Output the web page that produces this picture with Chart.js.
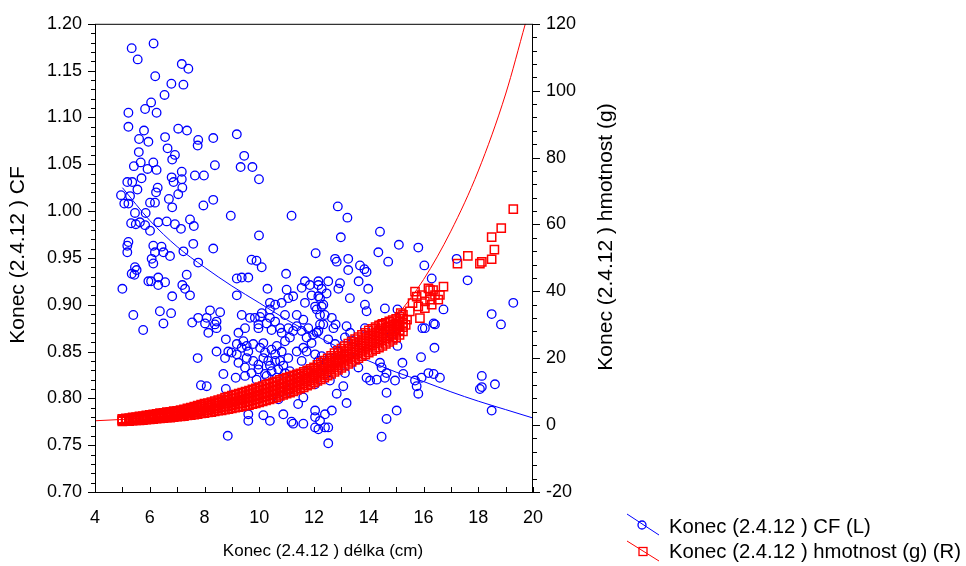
<!DOCTYPE html>
<html>
<head>
<meta charset="utf-8">
<script src="https://cdn.jsdelivr.net/npm/chart.js@4.4.1/dist/chart.umd.min.js"></script>
<style>
html,body{margin:0;padding:0;background:#fff;}
canvas{display:block;}
</style>
</head>
<body>
<canvas id="c" width="966" height="566"></canvas>
<script>
// ---- tick labels ----
const xTicks = [4, 6, 8, 10, 12, 14, 16, 18, 20];
const cfTicks = [0.70, 0.75, 0.80, 0.85, 0.90, 0.95, 1.00, 1.05, 1.10, 1.15, 1.20];
const hmTicks = [-20, 0, 20, 40, 60, 80, 100, 120];

// ---- titles ----
const xTitle = 'Konec (2.4.12 ) délka (cm)';
const cfTitle = 'Konec (2.4.12 ) CF';
const hmTitle = 'Konec (2.4.12 ) hmotnost (g)';
const cfLegend = 'Konec (2.4.12 ) CF (L)';
const hmLegend = 'Konec (2.4.12 ) hmotnost (g) (R)';

// ---- CF observations [length, CF] ----
const cfPoints = [
[5.34,1.174],[5.56,1.162],[6.14,1.179],[7.17,1.157],[7.41,1.152],[6.20,1.144],[6.79,1.136],[7.23,1.135],
[6.54,1.124],[6.05,1.116],[5.83,1.109],[6.25,1.105],[5.22,1.105],[5.22,1.090],[5.79,1.086],[5.61,1.077],
[5.95,1.074],[6.56,1.079],[7.04,1.088],[7.36,1.086],[7.77,1.076],[7.75,1.070],[8.32,1.078],[6.65,1.067],
[6.92,1.060],[6.82,1.055],[5.60,1.063],[6.13,1.052],[5.42,1.048],[5.67,1.052],[5.92,1.045],[6.25,1.044],
[7.17,1.042],[7.65,1.038],[7.98,1.038],[5.70,1.035],[6.80,1.036],[7.17,1.034],[6.87,1.031],[5.18,1.031],
[5.36,1.031],[5.55,1.023],[4.95,1.017],[5.28,1.016],[5.07,1.008],[5.22,1.008],[6.29,1.025],[6.23,1.020],
[6.01,1.009],[6.19,1.009],[6.70,1.013],[6.82,1.004],[7.04,1.018],[7.19,1.025],[7.96,1.006],[8.32,1.012],
[5.46,0.998],[5.85,0.998],[5.32,0.987],[5.49,0.986],[5.64,0.988],[5.83,0.985],[6.31,0.988],[6.62,0.989],
[6.92,0.986],[7.47,0.991],[7.61,0.984],[7.14,0.981],[6.01,0.979],[5.22,0.967],[7.59,0.965],[8.32,0.960],
[6.19,0.956],[9.18,1.082],[9.45,1.059],[9.32,1.047],[9.75,1.047],[9.99,1.034],[8.38,1.049],[8.96,0.995],
[11.18,0.995],[9.99,0.974],[9.72,0.948],[9.90,0.947],
[5.18,0.963],[5.18,0.956],[6.13,0.963],[6.43,0.962],[6.50,0.956],[6.74,0.952],[7.23,0.957],[6.07,0.949],
[6.13,0.944],[7.77,0.945],[5.46,0.940],[5.52,0.937],[5.34,0.933],[5.44,0.932],[5.95,0.925],[6.05,0.925],
[6.31,0.929],[6.56,0.924],[6.31,0.921],[7.35,0.932],[7.19,0.921],[7.29,0.917],[7.47,0.910],[6.82,0.909],
[5.00,0.917],[5.40,0.889],[5.76,0.873],[6.37,0.893],[6.78,0.891],[6.50,0.880],[7.55,0.881],[7.77,0.886],
[8.02,0.880],[8.20,0.894],[8.08,0.886],[8.14,0.870],[7.75,0.843],[7.87,0.814],
[9.18,0.928],[9.36,0.929],[9.60,0.929],[10.09,0.940],[10.98,0.933],[10.30,0.917],[9.18,0.910],
[10.39,0.902],[10.58,0.900],[10.82,0.902],[11.00,0.916],[11.24,0.909],[9.36,0.889],[9.66,0.886],[10.03,0.887],
[10.39,0.886],[10.27,0.880],[9.97,0.875],[10.45,0.873],[8.44,0.882],[8.57,0.892],[8.38,0.879],[8.78,0.863],
[8.44,0.850],[8.69,0.826],[8.78,0.810],[8.87,0.850],[8.99,0.849],[9.18,0.847],[9.18,0.858],[9.42,0.861],
[9.54,0.856],[9.78,0.858],[10.03,0.854],[10.15,0.859],[10.45,0.852],[10.64,0.856],[10.82,0.850],[11.06,0.843],
[11.37,0.850],[11.61,0.854],[9.54,0.843],[9.78,0.840],[9.97,0.836],[10.15,0.843],[10.39,0.835],[10.58,0.840],
[10.88,0.835],[11.12,0.829],[9.14,0.822],[9.48,0.824],[9.90,0.820],[10.27,0.824],[10.64,0.822],[11.12,0.820],
[8.83,0.801],[9.60,0.783],[9.60,0.776],[10.15,0.782],[10.39,0.776],[10.70,0.799],[10.88,0.783],[11.18,0.775],
[11.61,0.773],[8.85,0.760],[11.06,0.808],[11.42,0.794],[11.61,0.801],
[12.06,0.955],[11.67,0.925],[11.85,0.921],[12.16,0.921],[11.55,0.918],[11.06,0.907],[11.91,0.910],[12.22,0.907],
[11.67,0.902],[12.04,0.898],[12.34,0.900],[10.39,0.895],[10.94,0.889],[10.09,0.891],[10.58,0.882],[10.76,0.875],
[11.06,0.875],[11.24,0.872],[10.82,0.870],[10.94,0.861],[11.12,0.865],[11.37,0.877],[11.55,0.872],[11.79,0.875],
[11.97,0.868],[11.73,0.865],[11.91,0.859],[12.22,0.889],[12.34,0.879],[12.16,0.872],[11.37,0.889],[11.61,0.884],
[8.44,0.875],[9.84,0.886],[9.97,0.879],[9.48,0.875],[9.24,0.870],[8.75,0.843],[9.36,0.854],[9.60,0.850],
[10.21,0.849],[10.33,0.840],[10.58,0.847],[10.76,0.840],[9.24,0.838],[9.48,0.833],[9.72,0.827],[9.97,0.831],
[10.21,0.826],[10.45,0.829],[10.70,0.831],[10.94,0.827],[11.55,0.840],[11.73,0.850],[12.04,0.847],[11.79,0.829],
[11.42,0.822],[11.24,0.773],[12.04,0.769],[8.08,0.813],
[12.87,1.005],[13.22,0.993],[12.98,0.972],[14.41,0.978],[14.35,0.956],[15.10,0.964],[15.81,0.961],[16.03,0.942],
[14.71,0.946],[12.77,0.949],[12.83,0.946],[13.25,0.949],[13.25,0.937],[13.68,0.942],[13.84,0.938],[13.92,0.935],
[13.63,0.925],[13.98,0.917],[13.31,0.907],[12.95,0.923],[12.52,0.925],[12.89,0.917],[12.16,0.925],[12.28,0.917],
[12.46,0.912],[12.16,0.909],[12.28,0.898],[12.10,0.895],[12.39,0.889],[12.65,0.886],[12.22,0.879],[12.71,0.875],
[12.10,0.870],[12.52,0.863],[12.79,0.879],[13.19,0.877],[13.32,0.870],[13.86,0.900],[13.92,0.893],[14.59,0.896],
[15.05,0.895],[13.86,0.875],[13.13,0.865],[13.44,0.861],[12.77,0.858],[12.89,0.850],[12.58,0.843],[12.28,0.845],
[12.16,0.840],[15.96,0.875],[16.37,0.880],[16.40,0.854],[15.91,0.844],[15.23,0.838],[15.05,0.856],[14.84,0.868],
[14.41,0.838],[14.47,0.833],[14.65,0.827],[14.96,0.819],[15.26,0.826],[15.69,0.819],[15.93,0.822],[16.18,0.827],
[16.37,0.826],[13.62,0.833],[13.92,0.822],[14.05,0.819],[14.29,0.820],[14.59,0.822],[14.65,0.806],[15.75,0.813],
[15.81,0.805],[13.07,0.813],[12.83,0.805],[13.19,0.795],[12.65,0.787],[12.40,0.783],[12.22,0.776],[12.52,0.769],
[12.40,0.769],[12.16,0.767],[12.52,0.752],[14.47,0.759],[14.65,0.778],[15.02,0.787],[12.04,0.787],[12.04,0.815],
[12.34,0.833],[12.58,0.819],[13.13,0.827],[12.04,0.780],
[17.21,0.949],[17.61,0.926],[19.28,0.902],[18.49,0.890],[18.83,0.879],[16.30,0.928],[16.73,0.895],[16.42,0.879],
[16.60,0.822],[16.05,0.875],[18.13,0.824],[18.13,0.812],[18.06,0.810],[18.61,0.815],[18.49,0.787]
];

// ---- weight observations: dense band, read as [length, g, g, g, g, g] ----
const hmBand = [
[5.000,1.1,1.3,1.5,1.7,1.9],[5.125,1.2,1.4,1.6,1.8,2.0],[5.250,1.2,1.5,1.7,1.9,2.1],[5.375,1.3,1.6,1.8,2.1,2.3],
[5.500,1.4,1.7,1.9,2.2,2.4],[5.625,1.4,1.7,2.0,2.3,2.6],[5.750,1.5,1.8,2.1,2.4,2.7],[5.875,1.6,1.9,2.2,2.6,2.9],
[6.000,1.7,2.1,2.4,2.8,3.1],[6.125,1.8,2.2,2.5,2.9,3.2],[6.250,1.9,2.3,2.6,3.0,3.4],[6.375,2.0,2.4,2.8,3.2,3.6],
[6.500,2.1,2.5,2.9,3.3,3.7],[6.625,2.2,2.6,3.0,3.5,3.9],[6.750,2.2,2.7,3.1,3.6,4.0],[6.875,2.4,2.9,3.3,3.8,4.2],
[7.000,2.5,3.0,3.4,3.9,4.3],[7.125,2.6,3.1,3.6,4.1,4.5],[7.250,2.7,3.2,3.7,4.2,4.7],[7.375,2.9,3.4,3.9,4.5,5.0],
[7.500,3.0,3.6,4.1,4.7,5.2],[7.625,3.1,3.7,4.3,4.9,5.5],[7.750,3.3,3.9,4.5,5.2,5.8],[7.875,3.5,4.2,4.8,5.5,6.1],
[8.000,3.6,4.3,5.0,5.7,6.4],[8.125,3.8,4.5,5.2,5.9,6.6],[8.250,3.9,4.7,5.4,6.2,6.9],[8.375,4.1,4.9,5.7,6.5,7.2],
[8.500,4.3,5.1,5.9,6.7,7.5],[8.625,4.4,5.3,6.1,7.0,7.8],[8.750,4.6,5.5,6.4,7.3,8.2],[8.875,4.8,5.7,6.6,7.6,8.5],
[9.000,5.0,6.0,6.9,7.9,8.8],[9.125,5.2,6.2,7.1,8.1,9.1],[9.250,5.4,6.4,7.4,8.4,9.4],[9.375,5.6,6.6,7.6,8.7,9.7],
[9.500,5.8,6.9,7.9,9.0,10.0],[9.625,6.0,7.1,8.2,9.3,10.3],[9.750,6.3,7.4,8.5,9.6,10.7],[9.875,6.5,7.7,8.8,9.9,11.0],
[10.000,6.8,8.0,9.1,10.3,11.4],[10.125,7.1,8.3,9.4,10.6,11.7],[10.250,7.4,8.6,9.7,10.9,12.1],[10.375,7.7,8.9,10.0,11.2,12.4],
[10.500,8.0,9.2,10.4,11.6,12.8],[10.625,8.3,9.5,10.7,11.9,13.1],[10.750,8.7,9.9,11.1,12.3,13.5],[10.875,9.0,10.2,11.4,12.6,13.8],
[11.000,9.4,10.6,11.8,13.0,14.2],[11.125,9.7,10.9,12.1,13.3,14.5],[11.250,10.1,11.3,12.5,13.7,14.9],[11.375,10.5,11.7,12.8,14.0,15.2],
[11.500,10.9,12.1,13.2,14.4,15.5],[11.625,11.3,12.5,13.6,14.8,15.9],[11.750,11.8,13.0,14.1,15.3,16.4],[11.875,12.2,13.4,14.5,15.7,16.8],
[12.000,12.7,13.9,15.0,16.2,17.3],[12.125,13.2,14.4,15.6,16.8,18.0],[12.250,13.7,15.0,16.2,17.5,18.7],[12.375,14.2,15.5,16.8,18.1,19.3],
[12.500,14.8,16.1,17.4,18.7,20.0],[12.625,15.3,16.7,18.0,19.4,20.7],[12.750,15.9,17.3,18.7,20.1,21.5],[12.875,16.5,17.9,19.3,20.8,22.2],
[13.000,17.1,18.6,20.0,21.5,22.9],[13.125,17.7,19.2,20.6,22.1,23.6],[13.250,18.3,19.8,21.3,22.9,24.4],[13.375,18.9,20.4,21.9,23.5,25.0],
[13.500,19.5,21.1,22.6,24.2,25.7],[13.625,20.0,21.6,23.2,24.8,26.3],[13.750,20.6,22.2,23.8,25.4,27.0],[13.875,21.1,22.8,24.4,26.0,27.6],
[14.000,21.7,23.4,25.0,26.7,28.3],[14.125,22.2,23.9,25.5,27.2,28.8],[14.250,22.7,24.4,26.0,27.7,29.3],[14.375,23.2,24.9,26.5,28.2,29.8],
[14.500,23.7,25.4,27.0,28.7,30.3],[14.625,24.3,25.9,27.5,29.1,30.6],[14.750,24.9,26.5,28.0,29.5,31.0],[14.875,25.5,27.0,28.5,30.0,31.4],
[15.000,26.2,27.6,29.0,30.4,31.8],[15.125,27.0,28.4,29.8,31.1,32.4],[15.250,28.0,29.3,30.5,31.8,33.0]
];
// ---- weight observations: individual squares [length, g] ----
const hmPoints = [
[15.17,33.5],[15.35,30.0],[15.40,31.5],[15.50,34.0],[15.60,36.5],[15.75,38.4],[15.81,35.5],[15.87,32.0],
[15.93,38.9],[16.05,35.0],[16.05,37.0],[16.24,40.4],[16.24,37.5],[16.30,36.0],[16.35,40.4],[16.42,38.9],
[16.54,37.5],[16.60,38.9],[16.73,41.4],[15.69,39.9],[16.18,40.9],[14.47,30.0],[14.71,29.5],[14.90,26.1],
[15.10,30.0],[17.24,48.3],[17.62,50.6],[18.06,48.3],[18.13,48.8],[18.49,49.6],[18.59,52.5],[18.49,56.2],
[18.84,58.9],[19.28,64.6]
];

// ---- fitted curves ----
const cfFit = [[5,1.025],[6,0.990],[7,0.962],[8,0.940],[9,0.920],[10,0.902],[11,0.884],[12,0.868],
  [13,0.853],[14,0.840],[15,0.828],[16,0.818],[17,0.807],[18,0.797],[19,0.788],[20,0.779]];
const hmFit = [[4,1.3],[5,1.7],[6,2.3],[7,3.1],[8,4.2],[9,5.6],[10,7.5],[11,10.1],[12,13.5],[13,18.0],
  [14,24.2],[15,32.5],[16,43.5],[17,58.0],[18,76.0],[19,99.0],[19.72,120]];

const BLUE = '#0000ff';
const RED = '#ff0000';
const FONT = '"Liberation Sans", Arial, Helvetica, sans-serif';

const xy = arr => arr.map(p => ({x: p[0], y: p[1]}));
const bandXY = [];
hmBand.forEach(r => { for (let i = 1; i < r.length; i++) bandXY.push({x: r[0], y: r[i]}); });
const hmXY = bandXY.concat(xy(hmPoints));

const decorations = {
  id: 'decorations',
  afterDatasetsDraw(chart) {
    const {ctx, chartArea: a, scales} = chart;
    ctx.save();
    ctx.strokeStyle = '#000';
    ctx.lineWidth = 1;
    ctx.strokeRect(a.left + 0.5, a.top + 0.5, a.right - a.left - 1, a.bottom - a.top);
    ctx.beginPath();
    for (let i = 0; i <= 50; i++) {
      const y = Math.round(scales.yL.getPixelForValue(0.70 + i * 0.01)) + 0.5;
      const len = (i % 5 === 0) ? 7 : 4;
      ctx.moveTo(a.left, y); ctx.lineTo(a.left - len, y);
    }
    for (let i = 0; i <= 35; i++) {
      const y = Math.round(scales.yR.getPixelForValue(-20 + i * 4)) + 0.5;
      const len = (i % 5 === 0) ? 7 : 4;
      ctx.moveTo(a.right, y); ctx.lineTo(a.right + len, y);
    }
    for (let v = 4; v <= 20; v++) {
      const x = Math.round(scales.x.getPixelForValue(v)) + 0.5;
      ctx.moveTo(x, a.bottom); ctx.lineTo(x, a.bottom - 5);
    }
    ctx.stroke();
    ctx.restore();
  },
  afterDraw(chart) {
    const ctx = chart.ctx;
    const a = chart.chartArea;
    ctx.save();
    ctx.fillStyle = '#000';
    ctx.textAlign = 'center';
    ctx.textBaseline = 'middle';
    // axis titles
    ctx.font = '17px ' + FONT;
    ctx.fillText(xTitle, (a.left + a.right) / 2 + 9, 551);
    ctx.font = '21px ' + FONT;
    ctx.save(); ctx.translate(18, 255); ctx.rotate(-Math.PI / 2); ctx.fillText(cfTitle, 0, 0); ctx.restore();
    ctx.save(); ctx.translate(606, 237); ctx.rotate(-Math.PI / 2); ctx.fillText(hmTitle, 0, 0); ctx.restore();
    // legend
    ctx.lineWidth = 1;
    ctx.strokeStyle = BLUE;
    ctx.beginPath(); ctx.moveTo(627, 514); ctx.lineTo(659, 535); ctx.stroke();
    ctx.lineWidth = 1.3;
    ctx.beginPath(); ctx.arc(642, 525, 4, 0, Math.PI * 2); ctx.stroke();
    ctx.lineWidth = 1;
    ctx.strokeStyle = RED;
    ctx.beginPath(); ctx.moveTo(627, 541); ctx.lineTo(659, 561); ctx.stroke();
    ctx.lineWidth = 1.3;
    ctx.strokeRect(639, 547.5, 8, 8);
    ctx.font = '20.3px ' + FONT;
    ctx.textAlign = 'left';
    ctx.fillText(cfLegend, 669, 527);
    ctx.fillText(hmLegend, 669, 552);
    ctx.restore();
  }
};

Chart.defaults.font.family = FONT;
Chart.defaults.font.size = 18;
Chart.defaults.color = '#000';

new Chart(document.getElementById('c'), {
  type: 'scatter',
  data: {
    datasets: [
      { type: 'line', data: xy(hmFit), yAxisID: 'yR', borderColor: RED, borderWidth: 1,
        pointRadius: 0, fill: false, cubicInterpolationMode: 'monotone', order: 1 },
      { type: 'scatter', data: hmXY, yAxisID: 'yR', pointStyle: 'rect', pointRadius: 5.8,
        borderColor: RED, backgroundColor: 'rgba(0,0,0,0)', borderWidth: 1.5, order: 2 },
      { type: 'line', data: xy(cfFit), yAxisID: 'yL', borderColor: BLUE, borderWidth: 1,
        pointRadius: 0, fill: false, cubicInterpolationMode: 'monotone', order: 3 },
      { type: 'scatter', data: xy(cfPoints), yAxisID: 'yL', pointStyle: 'circle', pointRadius: 4.3,
        borderColor: BLUE, backgroundColor: 'rgba(0,0,0,0)', borderWidth: 1.3, order: 4 }
    ]
  },
  options: {
    responsive: false,
    animation: false,
    devicePixelRatio: 1,
    layout: { padding: { left: 0, top: 20, right: 343, bottom: 0 } },
    plugins: { legend: { display: false }, tooltip: { enabled: false } },
    scales: {
      x: {
        type: 'linear', position: 'bottom', min: 4, max: 20,
        grid: { display: false, drawTicks: false }, border: { display: false },
        afterBuildTicks: s => { s.ticks = xTicks.map(v => ({value: v})); },
        ticks: { padding: 15, callback: v => String(v), maxRotation: 0, autoSkip: false },
        title: { display: false, text: xTitle },
        afterFit: s => { s.height = 74; }
      },
      yL: {
        type: 'linear', position: 'left', min: 0.70, max: 1.20,
        grid: { display: false, drawTicks: false }, border: { display: false },
        afterBuildTicks: s => { s.ticks = cfTicks.map(v => ({value: v})); },
        ticks: { padding: 13, callback: v => Number(v).toFixed(2), autoSkip: false },
        title: { display: false, text: cfTitle },
        afterFit: s => { s.width = 95; }
      },
      yR: {
        type: 'linear', position: 'right', min: -20, max: 120,
        grid: { display: false, drawTicks: false }, border: { display: false },
        afterBuildTicks: s => { s.ticks = hmTicks.map(v => ({value: v})); },
        ticks: { padding: 13, callback: v => String(v), autoSkip: false },
        title: { display: false, text: hmTitle },
        afterFit: s => { s.width = 90; }
      }
    }
  },
  plugins: [decorations]
});
</script>
</body>
</html>
